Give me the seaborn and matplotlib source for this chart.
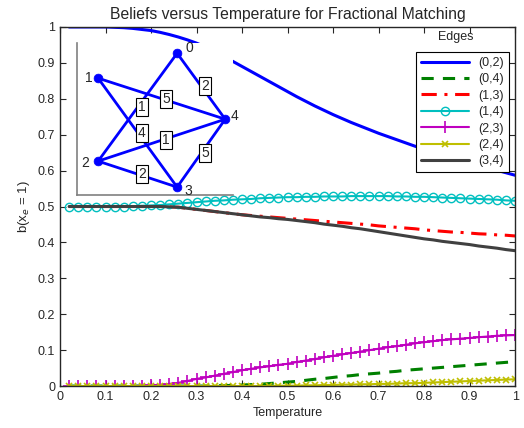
import numpy as np
import pandas as pd
import seaborn as sns
import matplotlib.pyplot as plt

# temperatures (0.02 steps)
temps = np.round(np.arange(1, 51) * 0.02, 2)

b02 = [1.000, 1.000, 1.000, 1.000, 1.000, 0.999, 0.998, 0.996, 0.993, 0.990,
       0.985, 0.979, 0.972, 0.964, 0.955, 0.944, 0.932, 0.918, 0.904, 0.890,
       0.876, 0.862, 0.848, 0.834, 0.820, 0.806, 0.793, 0.780, 0.768, 0.756,
       0.745, 0.734, 0.724, 0.714, 0.704, 0.695, 0.686, 0.677, 0.668, 0.660,
       0.652, 0.644, 0.636, 0.629, 0.622, 0.615, 0.608, 0.601, 0.594, 0.587]
b04 = [0.000] * 16 + [
       0.001, 0.001, 0.002, 0.003, 0.004, 0.005, 0.007, 0.009, 0.011, 0.013,
       0.016, 0.019, 0.021, 0.024, 0.027, 0.029, 0.032, 0.034, 0.036, 0.039,
       0.041, 0.044, 0.046, 0.048, 0.050, 0.052, 0.054, 0.056, 0.058, 0.060,
       0.062, 0.064, 0.066, 0.068]
b13 = [0.500] * 11 + [
       0.499, 0.498, 0.495, 0.492, 0.489, 0.486, 0.483, 0.480, 0.477, 0.475,
       0.473, 0.471, 0.469, 0.467, 0.465, 0.463, 0.461, 0.459, 0.457, 0.455,
       0.453, 0.451, 0.449, 0.446, 0.444, 0.442, 0.440, 0.438, 0.435, 0.433,
       0.431, 0.429, 0.428, 0.426, 0.424, 0.423, 0.421, 0.420, 0.418]
b14 = [0.500] * 7 + [
       0.501, 0.502, 0.503, 0.504, 0.506, 0.508, 0.510, 0.512, 0.514, 0.516,
       0.517, 0.519, 0.520, 0.521, 0.523, 0.524, 0.525, 0.526, 0.526, 0.527,
       0.527, 0.528, 0.528, 0.528, 0.529, 0.529, 0.529, 0.529, 0.529, 0.528,
       0.528, 0.527, 0.527, 0.526, 0.525, 0.524, 0.523, 0.522, 0.521, 0.520,
       0.519, 0.517, 0.516]
b23 = [0.000] * 8 + [
       0.001, 0.002, 0.003, 0.006, 0.009, 0.014, 0.020, 0.024, 0.029, 0.034,
       0.039, 0.044, 0.048, 0.052, 0.055, 0.059, 0.062, 0.067, 0.071, 0.075,
       0.080, 0.084, 0.088, 0.092, 0.096, 0.100, 0.104, 0.108, 0.111, 0.115,
       0.119, 0.122, 0.125, 0.128, 0.130, 0.132, 0.134, 0.136, 0.138, 0.140,
       0.141, 0.142]
b24 = [0.000] * 23 + [
       0.001, 0.001, 0.001, 0.002, 0.002, 0.003, 0.003, 0.004, 0.004, 0.005,
       0.005, 0.006, 0.006, 0.007, 0.008, 0.008, 0.009, 0.010, 0.011, 0.012,
       0.013, 0.014, 0.015, 0.016, 0.017, 0.018, 0.019]
b34 = [0.500] * 11 + [
       0.499, 0.498, 0.495, 0.492, 0.489, 0.486, 0.483, 0.480, 0.477, 0.474,
       0.471, 0.469, 0.466, 0.464, 0.461, 0.458, 0.455, 0.451, 0.448, 0.445,
       0.441, 0.438, 0.434, 0.430, 0.426, 0.422, 0.418, 0.414, 0.410, 0.407,
       0.403, 0.400, 0.397, 0.394, 0.390, 0.387, 0.384, 0.380, 0.377]

edge_names = ['(0,2)', '(0,4)', '(1,3)', '(1,4)', '(2,3)', '(2,4)', '(3,4)']
beliefs = [b02, b04, b13, b14, b23, b24, b34]

# small graph drawn in the inset
node_ids = ['0', '1', '2', '3', '4']
node_x = [0.641, 0.135, 0.135, 0.641, 0.949]
node_y = [0.934, 0.770, 0.224, 0.053, 0.500]
graph_edges = [(0, 2), (0, 4), (1, 3), (1, 4), (2, 3), (2, 4), (3, 4)]
edge_weights = ['1', '2', '4', '5', '2', '1', '5']

sns.set_style('ticks')
plt.rcParams['font.family'] = ['Liberation Sans', 'DejaVu Sans']
plt.rcParams['xtick.direction'] = 'in'
plt.rcParams['ytick.direction'] = 'in'

colors = ['#0000ff', '#008000', '#ff0000', '#00bfbf', '#bf00bf', '#bfbf00', '#404040']
styles = [
    dict(linestyle='-', lw=2.2),
    dict(linestyle=(0, (4, 3)), lw=2.2),
    dict(linestyle=(0, (5, 2.5, 1, 2.5)), lw=2.2),
    dict(linestyle='-', lw=1.5, marker='o', markersize=6, markerfacecolor='none', markeredgewidth=1.0),
    dict(linestyle='-', lw=1.5, marker='+', markersize=8, markeredgewidth=1.2),
    dict(linestyle='-', lw=1.5, marker='x', markersize=5, markeredgewidth=1.2),
    dict(linestyle='-', lw=2.2),
]

fig = plt.figure(figsize=(5.24, 4.28), dpi=100)
ax = fig.add_axes([0.1145, 0.098, 0.8685, 0.839])

for name, vals, c, st in zip(edge_names, beliefs, colors, styles):
    sns.lineplot(x=temps, y=vals, ax=ax, label=name, color=c, markeredgecolor=c, **st)

ax.set_xlim(0, 1)
ax.set_ylim(0, 1)
ax.set_xticks(np.arange(0, 1.01, 0.1))
ax.set_yticks(np.arange(0, 1.01, 0.1))
ax.set_xticklabels(['0', '0.1', '0.2', '0.3', '0.4', '0.5', '0.6', '0.7', '0.8', '0.9', '1'])
ax.set_yticklabels(['0', '0.1', '0.2', '0.3', '0.4', '0.5', '0.6', '0.7', '0.8', '0.9', '1'])
ax.tick_params(labelsize=9, top=True, right=True, length=4, width=0.8)
for sp in ax.spines.values():
    sp.set_visible(True)
    sp.set_linewidth(1.0)
ax.set_xlabel('Temperature', fontsize=9, labelpad=3)
ax.set_ylabel('b(x$_e$ = 1)', fontsize=9.5)
ax.set_title('Beliefs versus Temperature for Fractional Matching', fontsize=11.3, pad=6)

leg = ax.legend(loc='upper right', bbox_to_anchor=(0.987, 0.930), borderaxespad=0,
                fontsize=9, handlelength=3.8, numpoints=1, fancybox=False,
                framealpha=1, edgecolor='black', labelspacing=0.35)
leg.get_frame().set_linewidth(0.8)
ax.text(0.870, 0.972, 'Edges', transform=ax.transAxes, ha='center', va='center', fontsize=9)

# inset with the graph
ins = fig.add_axes([0.147, 0.544, 0.298, 0.355])
ins.set_facecolor('white')
ins.set_xlim(0, 1)
ins.set_ylim(0, 1)
ins.set_xticks([])
ins.set_yticks([])
ins.spines['top'].set_visible(False)
ins.spines['right'].set_visible(False)
ins.spines['left'].set_color('#808080')
ins.spines['bottom'].set_color('#808080')
ins.spines['left'].set_linewidth(1.2)
ins.spines['bottom'].set_linewidth(1.2)

for (a, b), w in zip(graph_edges, edge_weights):
    ins.plot([node_x[a], node_x[b]], [node_y[a], node_y[b]], color='#0000ff', lw=2.0, zorder=2)
    mx = (node_x[a] + node_x[b]) / 2
    my = (node_y[a] + node_y[b]) / 2
    ins.annotate(w, (mx, my), xytext=(3, 0), textcoords='offset points', ha='center', va='center',
                 fontsize=10, zorder=4,
                 bbox=dict(boxstyle='square,pad=0.15', facecolor='white', edgecolor='black', lw=0.8))
sns.scatterplot(x=node_x, y=node_y, ax=ins, color='#0000ff', s=40, edgecolor='#0000ff', zorder=3)

offsets = [(9, 4), (-7, 0), (-9, -1), (8, -3), (7, 2)]
for nid, x, y, off in zip(node_ids, node_x, node_y, offsets):
    ins.annotate(nid, (x, y), xytext=off, textcoords='offset points', ha='center', va='center',
                 fontsize=10, zorder=5)

plt.savefig('out.png', dpi=100)
